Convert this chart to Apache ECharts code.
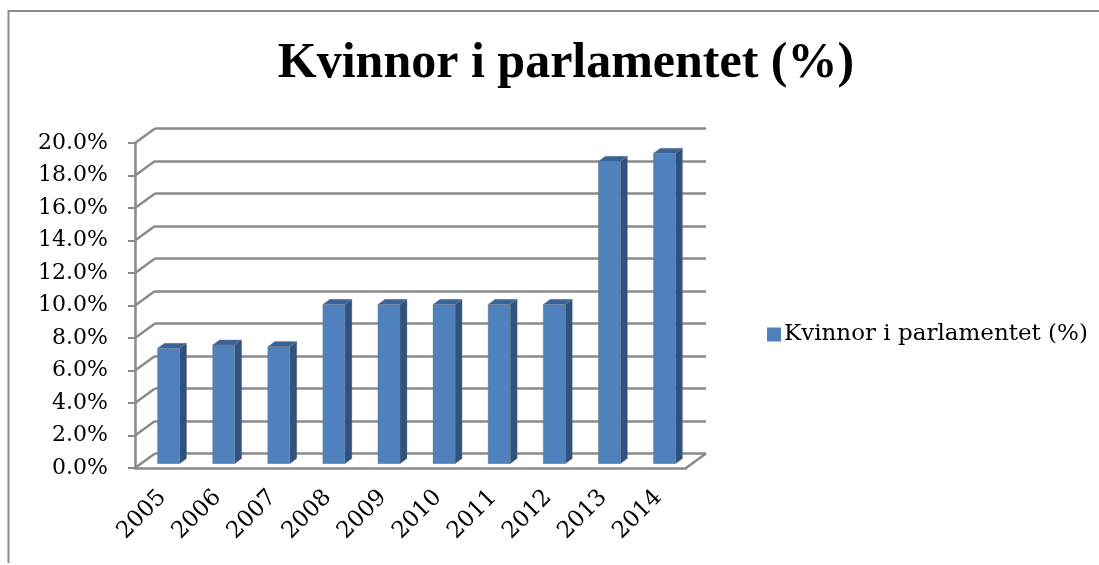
<!DOCTYPE html>
<html lang="sv">
<head>
    <meta charset="UTF-8">
    <title>Kvinnor i parlamentet</title>
    <script src="https://cdn.jsdelivr.net/npm/echarts@6/dist/echarts.min.js"></script>
    <style>
        body { margin: 0; background: #fff; }
        #main { width: 1099px; height: 565px; }
    </style>
</head>
<body>
<div id="main"></div>
<script type="text/javascript">
    // data
    var years = ['2005', '2006', '2007', '2008', '2009', '2010', '2011', '2012', '2013', '2014'];
    var andel = [7.1, 7.3, 7.2, 9.8, 9.8, 9.8, 9.8, 9.8, 18.6, 19.1];
    var yTicks = [0, 2, 4, 6, 8, 10, 12, 14, 16, 18, 20];
    var serieNamn = 'Kvinnor i parlamentet (%)';

    // 3d look: offset between front axis and back wall
    var DX = 20, DY = 14.5;
    var gridGray = '#8a8a8a';
    var labelFont = 'DejaVu Serif';

    var chart = echarts.init(document.getElementById('main'));

    chart.setOption({
        animation: false,
        title: {
            text: 'Kvinnor i parlamentet (%)',
            left: 561,
            top: 34,
            textAlign: 'center',
            textStyle: {
                fontFamily: 'Liberation Serif',
                fontWeight: 'bold',
                fontSize: 50,
                color: '#000'
            }
        },
        legend: {
            data: [serieNamn],
            left: 762,
            top: 318,
            icon: 'rect',
            itemWidth: 14,
            itemHeight: 14,
            itemGap: 6,
            textStyle: { fontFamily: labelFont, fontSize: 23, color: '#000', padding: [0, 0, 0, -2] }
        },
        graphic: [{
            type: 'polyline',
            shape: { points: [[8.5, 563], [8.5, 11], [1099, 11]] },
            style: { stroke: '#8c8c8c', lineWidth: 2, fill: null },
            silent: true
        }],
        grid: [
            // back wall
            { left: 135 + DX, top: 143 - DY, width: 551, height: 325 },
            // front axes
            { left: 135, top: 143, width: 551, height: 325 }
        ],
        xAxis: [
            { gridIndex: 0, type: 'category', data: years, show: false },
            {
                gridIndex: 1, type: 'category', data: years,
                axisLine: { lineStyle: { color: gridGray, width: 2.5 } },
                axisTick: { length: 7, lineStyle: { color: gridGray, width: 2 } },
                axisLabel: { rotate: 45, margin: 26, fontFamily: labelFont, fontSize: 23, color: '#000' }
            }
        ],
        yAxis: [
            {
                gridIndex: 0, type: 'value', min: 0, max: 20, interval: 2,
                axisLine: { show: false }, axisTick: { show: false }, axisLabel: { show: false },
                splitLine: { lineStyle: { color: gridGray, width: 2.5 } }
            },
            {
                gridIndex: 1, type: 'value', min: 0, max: 20, interval: 2,
                axisLine: { show: true, lineStyle: { color: gridGray, width: 2.5 } },
                axisTick: { show: true, length: 7, lineStyle: { color: gridGray, width: 2 } },
                splitLine: { show: false },
                axisLabel: {
                    margin: 27, fontFamily: labelFont, fontSize: 22, color: '#000',
                    formatter: function (v) { return v.toFixed(1) + '%'; }
                }
            }
        ],
        series: [
            {
                // diagonal lines joining the front axis to the back wall
                name: 'golv',
                type: 'custom',
                xAxisIndex: 1,
                yAxisIndex: 1,
                silent: true,
                data: yTicks.map(function (t) { return [0, t]; }),
                renderItem: function (params, api) {
                    var cs = params.coordSys;
                    var p = api.coord([0, api.value(1)]);
                    var lineStyle = { stroke: gridGray, lineWidth: 2.5 };
                    var kids = [{
                        type: 'line',
                        shape: { x1: cs.x, y1: p[1], x2: cs.x + DX, y2: p[1] - DY },
                        style: lineStyle
                    }];
                    if (api.value(1) === 0) {
                        kids.push({
                            type: 'line',
                            shape: { x1: cs.x + cs.width, y1: p[1], x2: cs.x + cs.width + DX, y2: p[1] - DY },
                            style: lineStyle
                        });
                    }
                    return { type: 'group', children: kids };
                },
                z: 1
            },
            {
                name: serieNamn,
                type: 'custom',
                xAxisIndex: 1,
                yAxisIndex: 1,
                itemStyle: { color: '#4F81BD' },
                data: andel.map(function (v, i) { return [i, v]; }),
                renderItem: function (params, api) {
                    var top = api.coord([api.value(0), api.value(1)]);
                    var bot = api.coord([api.value(0), 0]);
                    var band = api.size([1, 0])[0];
                    var w = band * 0.4;
                    var sx = DX * 0.3, sy = -DY * 0.3;
                    var dx = DX * 0.35, dy = -DY * 0.35;
                    var x1 = top[0] + sx - w / 2, x2 = x1 + w;
                    var yt = top[1] + sy, yb = bot[1] + sy;
                    return {
                        type: 'group',
                        children: [
                            {
                                type: 'polygon',
                                shape: { points: [[x2, yt], [x2 + dx, yt + dy], [x2 + dx, yb + dy], [x2, yb]] },
                                style: { fill: '#2F5281', stroke: 'rgba(120,120,120,0.35)', lineWidth: 1 }
                            },
                            {
                                type: 'polygon',
                                shape: { points: [[x1, yt], [x1 + dx, yt + dy], [x2 + dx, yt + dy], [x2, yt]] },
                                style: { fill: '#3A6399', stroke: 'rgba(120,120,120,0.35)', lineWidth: 1 }
                            },
                            {
                                type: 'rect',
                                shape: { x: x1, y: yt, width: w, height: yb - yt },
                                style: { fill: '#4F81BD', stroke: 'rgba(120,120,120,0.35)', lineWidth: 1 }
                            }
                        ]
                    };
                },
                z: 2
            }
        ]
    });
</script>
</body>
</html>
